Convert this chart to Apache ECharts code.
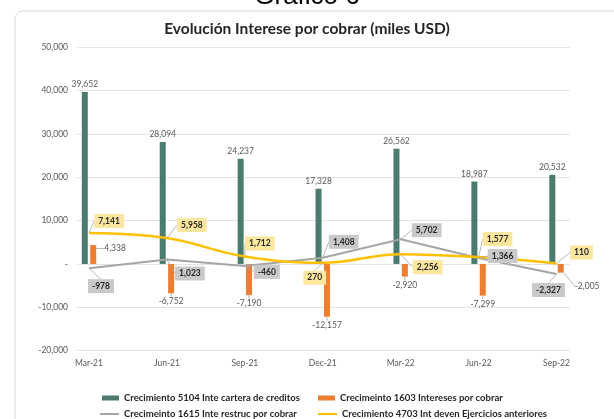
<!DOCTYPE html>
<html>
<head>
<meta charset="utf-8">
<script src="https://cdn.jsdelivr.net/npm/echarts@6/dist/echarts.min.js"></script>
<style>
  html, body { margin: 0; padding: 0; background: #fff; }
  #chart { width: 614px; height: 419px; }
</style>
</head>
<body>
<div id="chart"></div>
<script>
const categories = ['Mar-21', 'Jun-21', 'Sep-21', 'Dec-21', 'Mar-22', 'Jun-22', 'Sep-22']
const cartera = [39652, 28094, 24237, 17328, 26562, 18987, 20532]
const intereses = [4338, -6752, -7190, -12157, -2920, -7299, -2005]
const restruc = [-978, 1023, -460, 1408, 5702, 1366, -2327]
const ejercicios = [7141, 5958, 1712, 270, 2256, 1577, 110]

const seriesNames = [
  'Crecimiento 5104 Inte cartera de creditos',
  'Crecimeinto 1603 Intereses por cobrar',
  'Crecimeinto 1615 Inte restruc por cobrar',
  'Crecimiento 4703 Int deven Ejercicios anteriores'
]

// label shifts (px) so the boxes sit where the original has them
const yellowShift = [[20, -12], [25, -13], [15, -13], [-8, 15], [27, 13], [19, -18], [25, -11]]
const greyShift = [[12, 18], [23, 14], [22, 6], [21, -16], [26, -9], [24, -2], [-8, 16]]
const orangeShift = { 0: [4, -6], 6: [7, 18] }

const FONT = 'Lato'
const fmt = v => v === 0 ? '-' : v.toLocaleString('en-US')

const chart = echarts.init(document.getElementById('chart'))

const boxLabel = (bg) => ({
  show: true,
  position: 'inside',
  formatter: p => fmt(p.value),
  fontFamily: FONT,
  fontSize: 8.5,
  fontWeight: 'bold',
  color: '#262626',
  backgroundColor: bg,
  padding: [3, 4, 2, 4]
})

const legendAt = (name, left, top, line) => ({
  data: [{ name: name, icon: 'rect' }],
  left: left,
  top: top,
  itemWidth: line ? 19 : 17,
  itemHeight: line ? 2 : 5,
  textStyle: { fontFamily: FONT, fontSize: 9.5, fontWeight: 'bold', color: '#262626' }
})

chart.setOption({
  animation: false,
  graphic: [{
    type: 'rect',
    z: -10,
    shape: { x: 15, y: 11, width: 640, height: 500, r: 8 },
    style: { fill: '#fff', stroke: '#d9d9d9', lineWidth: 1 }
  }],
  title: [{
    text: 'Gráfico 6',
    left: 'center',
    top: -21,
    textStyle: { fontFamily: 'Liberation Sans', fontSize: 26, fontWeight: 'normal', color: '#000' }
  }, {
    text: 'Evolución Interese por cobrar (miles USD)',
    left: 'center',
    top: 16,
    textStyle: { fontFamily: FONT, fontSize: 15.5, fontWeight: 'bold', color: '#262626' }
  }],
  legend: [
    legendAt(seriesNames[0], 97, 388, false),
    legendAt(seriesNames[1], 313, 388, false),
    legendAt(seriesNames[2], 95, 404, true),
    legendAt(seriesNames[3], 313, 404, true)
  ],
  grid: [
    { left: 77, right: 44, top: 47, bottom: 68.3 },
    { left: 89, right: 57.5, top: 47, bottom: 68.3 }
  ],
  xAxis: [
    { gridIndex: 0, type: 'category', data: categories, show: false },
    {
      gridIndex: 1,
      type: 'category',
      data: categories,
      boundaryGap: false,
      axisLine: { show: false },
      axisTick: { show: false },
      splitLine: { show: false },
      axisLabel: { margin: 8, fontFamily: FONT, fontSize: 8.5, color: '#595959' }
    }
  ],
  yAxis: [
    {
      gridIndex: 0,
      type: 'value',
      min: -20000,
      max: 50000,
      interval: 10000,
      axisLine: { show: false },
      axisTick: { show: false },
      splitLine: { lineStyle: { color: '#e3e3e3', width: 1 } },
      axisLabel: { margin: 9, formatter: fmt, fontFamily: FONT, fontSize: 8.5, color: '#595959' }
    },
    {
      gridIndex: 1,
      type: 'value',
      min: -20000,
      max: 50000,
      interval: 10000,
      show: false
    }
  ],
  series: [
    {
      name: seriesNames[0],
      type: 'bar',
      xAxisIndex: 1,
      yAxisIndex: 1,
      data: cartera,
      barWidth: 6,
      barGap: '40%',
      itemStyle: { color: '#4b7b6e' },
      label: {
        show: true,
        position: 'top',
        distance: 3,
        formatter: p => fmt(p.value),
        fontFamily: FONT,
        fontSize: 8.5,
        color: '#595959'
      }
    },
    {
      name: seriesNames[1],
      type: 'bar',
      xAxisIndex: 1,
      yAxisIndex: 1,
      data: intereses.map((v, i) => orangeShift[i]
        ? { value: v, label: { position: 'right' } }
        : v),
      barWidth: 6,
      itemStyle: { color: '#ed7d31' },
      label: {
        show: true,
        position: 'outside',
        distance: 4,
        formatter: p => fmt(p.value),
        fontFamily: FONT,
        fontSize: 8.5,
        color: '#595959'
      },
      labelLine: { show: true, lineStyle: { color: '#a6a6a6', width: 0.8 } },
      labelLayout: p => orangeShift[p.dataIndex]
        ? { dx: orangeShift[p.dataIndex][0], dy: orangeShift[p.dataIndex][1] }
        : {}
    },
    {
      name: seriesNames[2],
      type: 'line',
      xAxisIndex: 1,
      yAxisIndex: 1,
      data: restruc,
      symbol: 'circle',
      symbolSize: 0.1,
      lineStyle: { color: '#a5a5a5', width: 2 },
      itemStyle: { color: '#a5a5a5' },
      label: boxLabel('#c9c9c9'),
      labelLine: { show: true, lineStyle: { color: '#a6a6a6', width: 0.8 } },
      labelLayout: p => ({ dx: greyShift[p.dataIndex][0], dy: greyShift[p.dataIndex][1] })
    },
    {
      name: seriesNames[3],
      type: 'line',
      xAxisIndex: 1,
      yAxisIndex: 1,
      data: ejercicios,
      smooth: 0.4,
      symbol: 'circle',
      symbolSize: 0.1,
      lineStyle: { color: '#ffc000', width: 2.5 },
      itemStyle: { color: '#ffc000' },
      label: boxLabel('#fde79f'),
      labelLine: { show: true, lineStyle: { color: '#a6a6a6', width: 0.8 } },
      labelLayout: p => ({ dx: yellowShift[p.dataIndex][0], dy: yellowShift[p.dataIndex][1] })
    }
  ]
})
</script>
</body>
</html>
